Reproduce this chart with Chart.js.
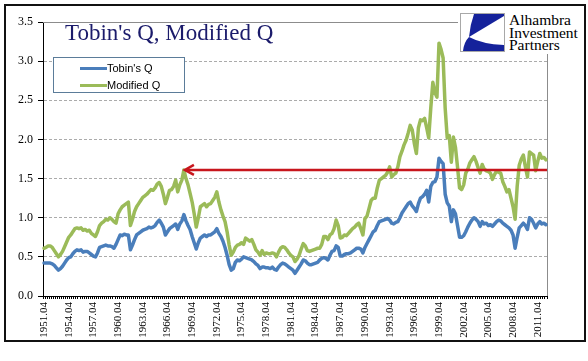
<!DOCTYPE html>
<html><head><meta charset="utf-8">
<script src="https://cdn.jsdelivr.net/npm/chart.js@4.4.1/dist/chart.umd.min.js"></script>
<style>
html,body{margin:0;padding:0;background:#fff;}
#wrap{position:relative;width:588px;height:361px;overflow:hidden;background:#fff;}
#c{position:absolute;left:0;top:0;}
#frame{position:absolute;left:4px;top:4px;width:582px;height:338px;box-sizing:border-box;border:2px solid #111;pointer-events:none;}
#title{position:absolute;left:65px;top:21px;font-family:'Liberation Serif',serif;font-size:23px;line-height:23px;color:#1b1b6b;white-space:nowrap;}
#legend{position:absolute;left:53px;top:57px;width:132px;height:36px;box-sizing:border-box;border:1px solid #5b7c99;background:#fff;}
.item{position:absolute;left:0;height:12px;width:130px;}
.swatch{position:absolute;left:26px;top:5px;width:27px;height:3px;}
.ltxt{position:absolute;left:53px;top:0;font-family:'Liberation Sans',sans-serif;font-size:11px;line-height:12px;color:#000;white-space:nowrap;}
#logo{position:absolute;left:458px;top:9px;width:127px;height:45px;background:#fff;}
#logoimg{position:absolute;left:460px;top:13px;}
#logotxt{position:absolute;left:509px;top:14px;font-family:'Liberation Serif',serif;font-size:15.5px;line-height:12.5px;color:#000;white-space:nowrap;}
</style></head>
<body>
<div id="wrap">
<canvas id="c" width="588" height="361"></canvas>
<div id="title">Tobin's Q, Modified Q</div>
<div id="legend"></div>
<div id="logo"></div>
<canvas id="logoimg" width="45" height="39"></canvas>
<div id="logotxt">Alhambra<br>Investment<br>Partners</div>
<div id="frame"></div>
</div>
<script>
// ---- data (quarterly, 1951.04 .. 2012.04) ----
const firstYear = 1951, firstQuarter = 4, quarterCount = 245;
const tickLabels = ["1951.04","1954.04","1957.04","1960.04","1963.04","1966.04","1969.04","1972.04","1975.04","1978.04","1981.04","1984.04","1987.04","1990.04","1993.04","1996.04","1999.04","2002.04","2005.04","2008.04","2011.04"];
const yTicks = [0.0, 0.5, 1.0, 1.5, 2.0, 2.5, 3.0, 3.5];
const seriesNames = ["Tobin's Q", "Modified Q"];
const tobinsQ = [
0.42,
0.42,0.42,0.42,0.41, 0.39,0.36,0.33,0.35, 0.38,0.42,0.46,0.49, 0.50,0.54,0.57,0.59,
0.58,0.59,0.56,0.57, 0.57,0.55,0.53,0.51, 0.50,0.55,0.62,0.63, 0.64,0.65,0.64,0.64,
0.63,0.61,0.66,0.72, 0.78,0.77,0.79,0.78, 0.78,0.59,0.65,0.72, 0.78,0.80,0.82,0.84,
0.85,0.86,0.88,0.87, 0.88,0.90,0.94,0.97, 0.93,0.88,0.78,0.82, 0.86,0.88,0.90,0.92,
0.85,0.92,0.96,1.04, 0.96,0.90,0.85,0.76, 0.68,0.60,0.68,0.74, 0.76,0.78,0.76,0.78,
0.78,0.80,0.82,0.86, 0.80,0.76,0.70,0.62, 0.52,0.40,0.33,0.35, 0.43,0.46,0.45,0.47,
0.50,0.49,0.48,0.47, 0.46,0.44,0.41,0.39, 0.35,0.37,0.37,0.36, 0.36,0.35,0.37,0.34,
0.33,0.37,0.40,0.42, 0.41,0.39,0.37,0.35, 0.33,0.29,0.33,0.37, 0.41,0.46,0.45,0.42,
0.40,0.40,0.41,0.42, 0.43,0.46,0.48,0.49, 0.48,0.46,0.52,0.57, 0.58,0.64,0.62,0.51,
0.51,0.53,0.54,0.54, 0.55,0.57,0.59,0.61, 0.61,0.60,0.55,0.62, 0.67,0.72,0.77,0.82,
0.84,0.90,0.95,0.96, 0.97,0.98,0.99,0.97, 0.93,0.92,0.94,0.95, 1.00,1.06,1.10,1.14,
1.18,1.20,1.15,1.12, 1.08,1.18,1.25,1.27, 1.30,1.35,1.20,1.40, 1.45,1.46,1.52,1.76,
1.72,1.69,1.30,1.19, 1.15,0.95,1.10,1.05, 0.90,0.75,0.75,0.77, 0.82,0.88,0.93,0.97,
1.00,0.98,0.95,0.89, 0.95,0.92,0.93,0.90, 0.91,0.89,0.92,0.95, 0.97,0.96,0.93,0.91,
0.89,0.87,0.84,0.78, 0.61,0.75,0.87,0.90, 0.93,0.90,0.85,1.00, 0.98,0.93,0.87,0.92,
0.95,0.92,0.93,0.91
];
const modifiedQ = [
0.61,
0.62,0.64,0.64,0.62, 0.58,0.54,0.50,0.53, 0.57,0.63,0.69,0.75, 0.78,0.82,0.86,0.87,
0.86,0.87,0.84,0.85, 0.83,0.84,0.80,0.78, 0.76,0.82,0.90,0.93, 0.95,0.98,0.97,1.00,
0.98,0.95,0.93,1.05, 1.10,1.14,1.16,1.18, 1.20,0.90,0.98,1.08, 1.14,1.18,1.22,1.26,
1.28,1.30,1.33,1.36, 1.35,1.38,1.43,1.45, 1.40,1.30,1.18,1.26, 1.35,1.36,1.40,1.48,
1.33,1.42,1.48,1.61, 1.50,1.42,1.31,1.20, 1.05,0.88,1.00,1.14, 1.16,1.18,1.14,1.17,
1.18,1.22,1.26,1.33, 1.20,1.10,1.02,0.95, 0.82,0.65,0.52,0.56, 0.62,0.65,0.66,0.68,
0.66,0.74,0.72,0.70, 0.72,0.66,0.59,0.56, 0.52,0.58,0.53,0.55, 0.54,0.54,0.55,0.54,
0.50,0.56,0.61,0.63, 0.62,0.59,0.55,0.52, 0.50,0.44,0.47,0.52, 0.60,0.67,0.64,0.58,
0.57,0.58,0.59,0.60, 0.61,0.61,0.66,0.76, 0.76,0.72,0.78,0.80, 0.86,0.97,0.90,0.74,
0.75,0.78,0.77,0.80, 0.83,0.86,0.88,0.91, 0.93,0.86,0.78,0.99, 1.02,1.12,1.22,1.25,
1.25,1.38,1.48,1.50, 1.52,1.54,1.58,1.65, 1.52,1.55,1.57,1.65, 1.78,1.85,1.93,1.99,
2.08,2.18,2.12,1.95, 1.82,2.15,2.25,2.24, 2.27,2.15,2.02,2.40, 2.73,2.60,2.54,3.23,
3.15,3.04,2.40,2.02, 2.05,1.71,2.03,1.90, 1.65,1.38,1.36,1.42, 1.57,1.62,1.70,1.74,
1.78,1.72,1.64,1.57, 1.68,1.62,1.60,1.59, 1.57,1.49,1.55,1.60, 1.58,1.57,1.46,1.40,
1.33,1.36,1.25,1.14, 0.98,1.40,1.67,1.75, 1.80,1.65,1.52,1.84, 1.82,1.80,1.60,1.72,
1.82,1.76,1.77,1.74
];
// red arrow annotation: from the 1968 peak of Modified Q to the right edge
const arrowFrom = "1968.04";
const arrowLevel = 1.61;

// category labels (year.quarter)
const categories = [];
for (let i = 0; i < quarterCount; i++) {
  const k = i + firstQuarter - 1;
  const y = firstYear + Math.floor(k / 4);
  const q = (k % 4) + 1;
  categories.push(y + ".0" + q);
}
const tickSet = new Set(tickLabels);

const colors = ['#4A7EBB', '#9BBB59'];

const plotFrame = {
  id: 'plotFrame',
  beforeDatasetsDraw(chart) {
    const {ctx, chartArea: a} = chart;
    ctx.save();
    ctx.strokeStyle = '#8c8c8c';
    ctx.lineWidth = 1;
    ctx.beginPath();
    ctx.moveTo(a.left, Math.round(a.top) + 0.5);
    ctx.lineTo(Math.round(a.right) + 0.5, Math.round(a.top) + 0.5);
    ctx.lineTo(Math.round(a.right) + 0.5, a.bottom);
    ctx.stroke();
    ctx.restore();
  }
};
const arrowPlugin = {
  id: 'arrow',
  afterDatasetsDraw(chart) {
    const {ctx, chartArea: a, scales} = chart;
    const x = scales.x.getPixelForValue(categories.indexOf(arrowFrom));
    const y = scales.y.getPixelForValue(arrowLevel);
    ctx.save();
    ctx.strokeStyle = '#C8161D';
    ctx.lineWidth = 2.5;
    ctx.lineCap = 'butt';
    ctx.beginPath();
    ctx.moveTo(a.right, y);
    ctx.lineTo(x + 1.5, y);
    ctx.stroke();
    ctx.lineJoin = 'miter';
    ctx.beginPath();
    ctx.moveTo(x + 10, y - 5);
    ctx.lineTo(x + 1, y);
    ctx.lineTo(x + 10, y + 5);
    ctx.stroke();
    ctx.restore();
  }
};

const chart = new Chart(document.getElementById('c'), {
  type: 'line',
  data: {
    labels: categories,
    datasets: [
      {label: seriesNames[0], data: tobinsQ, borderColor: colors[0], backgroundColor: colors[0], borderWidth: 3.5, pointRadius: 0, tension: 0, fill: false, borderJoinStyle: 'round', borderCapStyle: 'round'},
      {label: seriesNames[1], data: modifiedQ, borderColor: colors[1], backgroundColor: colors[1], borderWidth: 3.5, pointRadius: 0, tension: 0, fill: false, borderJoinStyle: 'round', borderCapStyle: 'round'}
    ]
  },
  options: {
    responsive: false,
    animation: false,
    devicePixelRatio: 1,
    layout: {padding: {left: 0, top: 22, right: 41, bottom: 0}},
    plugins: {legend: {display: false}, title: {display: false}, tooltip: {enabled: false}},
    scales: {
      x: {
        type: 'category',
        offset: true,
        grid: {display: true, offset: true, drawOnChartArea: false, drawTicks: true, tickLength: 3, color: '#000', tickColor: '#000', lineWidth: 1},
        border: {display: true, color: '#000', width: 1},
        ticks: {
          autoSkip: false, minRotation: 90, maxRotation: 90, padding: 3,
          font: {family: 'Liberation Serif', size: 11}, color: '#000',
          callback: (v, i) => tickSet.has(categories[i]) ? categories[i] : ''
        },
        afterFit: s => { s.height = 65; }
      },
      y: {
        min: 0, max: 3.5,
        afterBuildTicks: s => { s.ticks = yTicks.map(v => ({value: v})); },
        ticks: {padding: 5, font: {family: 'Liberation Serif', size: 12}, color: '#000', callback: v => Number(v).toFixed(1)},
        grid: {
          color: c => (c.tick && c.tick.value > 0 && c.tick.value < 3.5) ? '#ababab' : 'rgba(0,0,0,0)',
          tickColor: '#000', tickLength: 5, tickBorderDash: [], lineWidth: 1
        },
        border: {display: true, color: '#000', width: 1, dash: [3, 2]},
        afterFit: s => { s.width = 43; }
      }
    }
  },
  plugins: [plotFrame, arrowPlugin]
});

// legend built from the datasets
const lg = document.getElementById('legend');
chart.data.datasets.forEach((ds, i) => {
  const it = document.createElement('div');
  it.className = 'item';
  it.style.top = (4 + i * 17) + 'px';
  const sw = document.createElement('div');
  sw.className = 'swatch';
  sw.style.background = ds.borderColor;
  const tx = document.createElement('div');
  tx.className = 'ltxt';
  tx.textContent = ds.label;
  it.appendChild(sw); it.appendChild(tx);
  lg.appendChild(it);
});

// logo mark
(function () {
  const c = document.getElementById('logoimg').getContext('2d');
  c.fillStyle = '#fff'; c.fillRect(0, 0, 45, 39);
  c.strokeStyle = '#a8a8a8'; c.lineWidth = 1; c.strokeRect(0.5, 0.5, 44, 38);
  c.fillStyle = '#15229b';
  c.beginPath();
  c.moveTo(14, 1); c.lineTo(44, 1); c.lineTo(44, 3); c.lineTo(9, 24);
  c.quadraticCurveTo(10, 12, 14, 1);
  c.fill();
  c.beginPath();
  c.moveTo(9, 24); c.quadraticCurveTo(22, 31, 44, 32); c.lineTo(44, 38); c.lineTo(3, 38);
  c.quadraticCurveTo(4, 29, 9, 24);
  c.fill();
})();
</script>
</body></html>
